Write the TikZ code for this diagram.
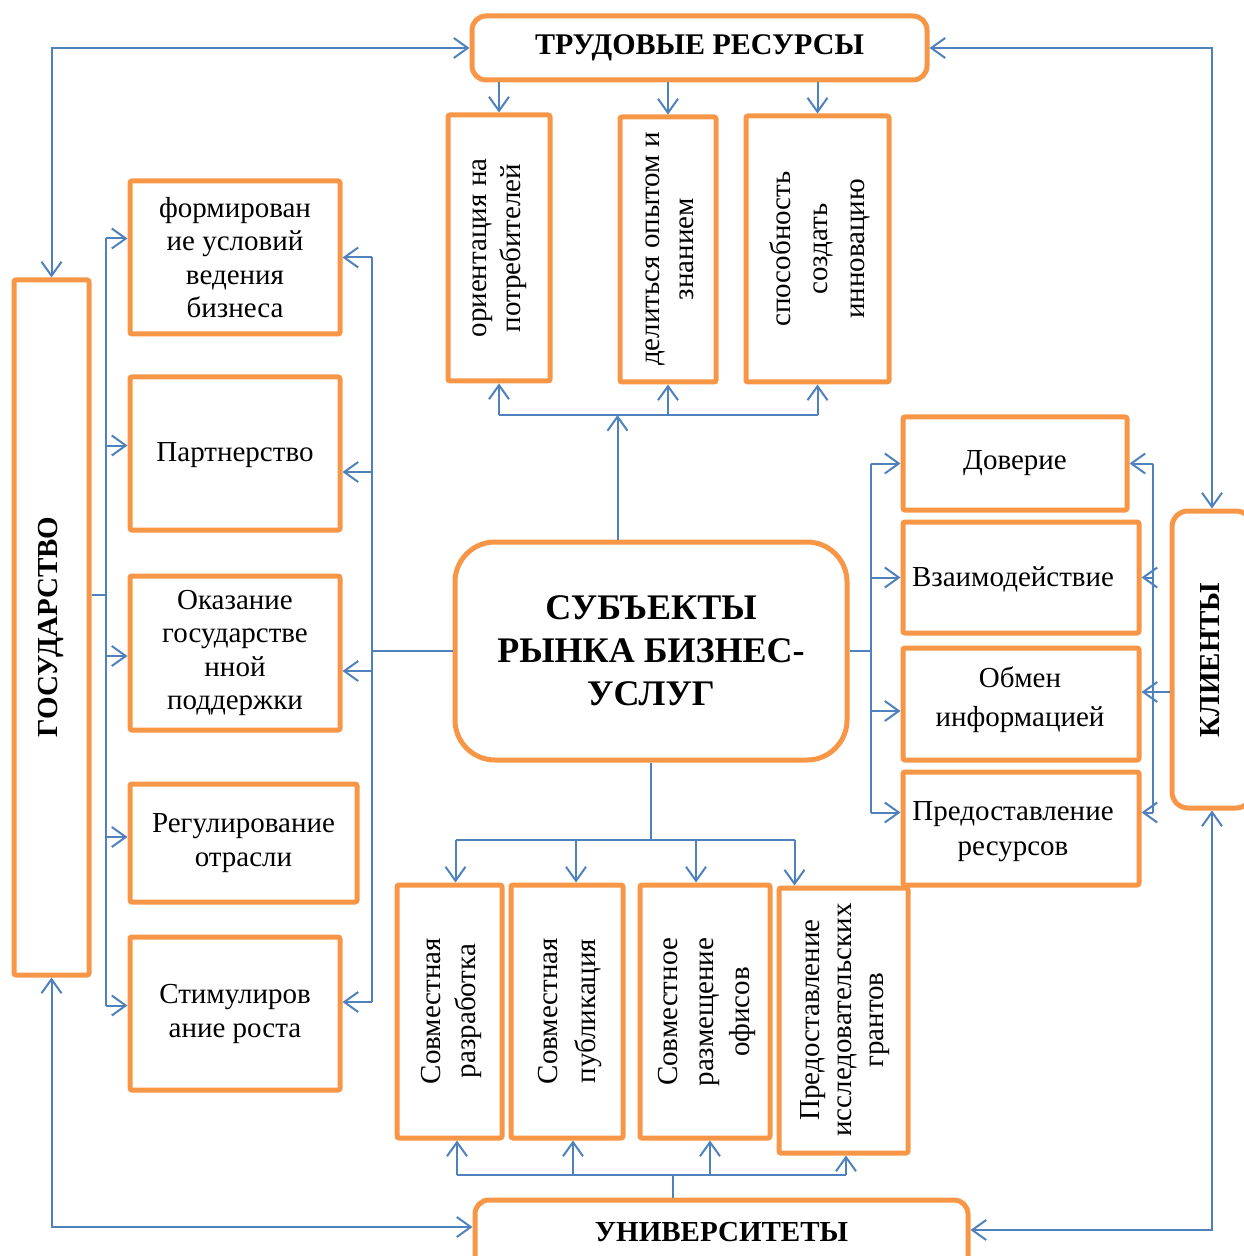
\documentclass[tikz,border=0pt]{standalone}
\usepackage{fontspec}
\setmainfont{Liberation Serif}[BoldFont={Liberation Serif Bold}]
\usetikzlibrary{arrows.meta}
\definecolor{org}{RGB}{247,150,70}
\definecolor{blu}{RGB}{79,129,189}
\begin{document}
\begin{tikzpicture}[x=0.5pt,y=-0.5pt,
  box/.style={draw=org,line width=2.5pt,rounded corners=1pt,inner sep=0pt,align=center,
              font=\fontsize{14.5}{17}\selectfont},
  rot/.style={rotate=90,align=center,inner sep=0pt,font=\fontsize{14.5}{17}\selectfont},
  boldtxt/.style={align=center,inner sep=0pt,font=\fontsize{14.5}{17}\selectfont\bfseries},
  tipb/.tip={Straight Barb[length=7pt,width=10pt]},
  ln/.style={draw=blu,line width=1pt},
  arr/.style={ln,-tipb},
  arr2/.style={ln,tipb-tipb}]
\useasboundingbox (0,0) rectangle (1243,1256);

% top
\node[box,rounded corners=7pt,minimum width=227.5pt,minimum height=32pt,
      font=\fontsize{15}{17}\selectfont\bfseries] (TR) at (699.5,48) {ТРУДОВЫЕ РЕСУРСЫ};
\node[box,minimum width=51pt,minimum height=133pt] (B1) at (499,248) {};
\node[rot] (B1t) at (500,248) {ориентация на\\потребителей};
\node[box,minimum width=48pt,minimum height=132.5pt] (B2) at (668,249.5) {};
\node[rot] (B2t) at (670,249) {делиться опытом и\\знанием};
\node[box,minimum width=71.5pt,minimum height=133pt] (B3) at (817.5,249) {};
\node[rot,font=\fontsize{14.5}{18.5}\selectfont] (B3t) at (820,249) {способность\\создать\\инновацию};

% left
\node[box,minimum width=37.5pt,minimum height=347.5pt] (GOS) at (51.5,627.5) {};
\node[boldtxt,rotate=90] (GOSt) at (51,627) {ГОСУДАРСТВО};
\node[box,minimum width=105pt,minimum height=76.5pt,font=\fontsize{14.5}{16.7}\selectfont] (L1) at (235,257.5) {формирован\\ие условий\\ведения\\бизнеса};
\node[box,minimum width=105pt,minimum height=76.5pt] (L2) at (235,453.5) {};
\node[align=center,inner sep=0pt,font=\fontsize{14.5}{17}\selectfont] (L2t) at (235,455) {Партнерство};
\node[box,minimum width=105pt,minimum height=77pt,font=\fontsize{14.5}{16.7}\selectfont] (L3) at (235,653) {Оказание\\государстве\\нной\\поддержки};
\node[box,minimum width=113.5pt,minimum height=59pt] (L4) at (243.5,843) {Регулирование\\отрасли};
\node[box,minimum width=105pt,minimum height=76.5pt] (L5) at (235,1013.5) {Стимулиров\\ание роста};

% centre
\node[box,rounded corners=20pt,minimum width=196pt,minimum height=109pt,
      font=\fontsize{18}{21.5}\selectfont\bfseries] (C) at (651,651) {СУБЪЕКТЫ\\РЫНКА БИЗНЕС-\\УСЛУГ};

% right
\node[box,minimum width=112pt,minimum height=46.5pt] (R1) at (1015,463.5) {Доверие};
\node[box,minimum width=118pt,minimum height=55.5pt] (R2) at (1021,577.5) {};
\node[align=center,inner sep=0pt,font=\fontsize{14.5}{17}\selectfont] (R2t) at (1013,579) {Взаимодействие};
\node[box,minimum width=118pt,minimum height=56pt] (R3) at (1021,704) {};
\node[align=center,inner sep=0pt,font=\fontsize{14.5}{19.5}\selectfont] (R3t) at (1020,700) {Обмен\\информацией};
\node[box,minimum width=118pt,minimum height=56.5pt] (R4) at (1021,828.5) {};
\node[align=center,inner sep=0pt,font=\fontsize{14.5}{17.5}\selectfont] (R4t) at (1013,832) {Предоставление\\ресурсов};
\node[box,rounded corners=8pt,minimum width=40pt,minimum height=148.5pt] (KL) at (1212,659.5) {};
\node[boldtxt,rotate=90] (KLt) at (1210,660) {КЛИЕНТЫ};

% bottom
\node[box,minimum width=52.5pt,minimum height=126.5pt] (D1) at (449.5,1011.5) {};
\node[rot,font=\fontsize{14.5}{17.5}\selectfont] (D1t) at (451,1011) {Совместная\\разработка};
\node[box,minimum width=56pt,minimum height=126.5pt] (D2) at (567,1011.5) {};
\node[rot,font=\fontsize{14.5}{19}\selectfont] (D2t) at (570,1011) {Совместная\\публикация};
\node[box,minimum width=65pt,minimum height=126.5pt] (D3) at (705,1011.5) {};
\node[rot,font=\fontsize{14.5}{17.8}\selectfont] (D3t) at (707,1012) {Совместное\\размещение\\офисов};
\node[box,minimum width=64.5pt,minimum height=132.5pt] (D4) at (843.5,1020.5) {};
\node[rot,font=\fontsize{14.5}{16}\selectfont] (D4t) at (845,1020) {Предоставление\\исследовательских\\грантов};
\node[box,rounded corners=7pt,minimum width=246.5pt,minimum height=35pt] (UN) at (721.5,1235) {};
\node[boldtxt] (UNt) at (721.5,1232) {УНИВЕРСИТЕТЫ};

% --- connectors: top
\draw[arr] (TR.south -| B1) -- (B1.north);
\draw[arr] (TR.south -| B2) -- (B2.north);
\draw[arr] (TR.south -| B3) -- (B3.north);
\coordinate (jt) at (617.5,415);
\draw[arr] (C.north -| jt) -- (jt);
\draw[ln] (B1.south |- jt) -- (B3.south |- jt);
\draw[arr] (B1.south |- jt) -- (B1.south);
\draw[arr] (B2.south |- jt) -- (B2.south);
\draw[arr] (B3.south |- jt) -- (B3.south);

% left bus
\coordinate (gl) at (106,595);
\draw[ln] (GOS.east |- gl) -- (gl);
\coordinate (a1) at ([yshift=9.5pt]L1.west);
\coordinate (a2) at ([yshift=4pt]L2.west);
\coordinate (a3) at ([yshift=-1.5pt]L3.west);
\coordinate (a4) at ([yshift=3pt]L4.west);
\coordinate (a5) at ([yshift=4pt]L5.west);
\draw[ln] (a1 -| gl) -- (a5 -| gl);
\foreach \i in {1,...,5} \draw[arr] (a\i -| gl) -- (a\i);

\coordinate (gr) at ([xshift=-40.5pt]C.west);
\draw[ln] (C.west) -- (gr);
\coordinate (b1) at (L1.east);
\coordinate (b2) at ([yshift=-9.25pt]L2.east);
\coordinate (b3) at ([yshift=-9pt]L3.east);
\coordinate (b5) at ([yshift=5.75pt]L5.east);
\draw[ln] (b1 -| gr) -- (b5 -| gr);
\foreach \i in {1,2,3,5} \draw[arr] (b\i -| gr) -- (b\i);

% right buses
\coordinate (hr) at ([xshift=10.5pt]C.east);
\draw[ln] (C.east) -- (hr);
\coordinate (c1) at (R1.west);
\coordinate (c2) at (R2.west);
\coordinate (c3) at ([yshift=-3.5pt]R3.west);
\coordinate (c4) at ([yshift=8pt]R4.west);
\draw[ln] (c1 -| hr) -- (c4 -| hr);
\foreach \i in {1,...,4} \draw[arr] (c\i -| hr) -- (c\i);

\coordinate (hk) at ([xshift=-8.5pt]KL.west);
\coordinate (d1) at (R1.east);
\coordinate (d2) at (R2.east);
\coordinate (d4) at ([yshift=8pt]R4.east);
\draw[ln] (d1 -| hk) -- (d4 -| hk);
\foreach \i in {1,2,4} \draw[arr] (d\i -| hk) -- (d\i);
\coordinate (r3) at ([yshift=6pt]R3.east);
\draw[arr] (KL.west |- r3) -- (r3);

% bottom
\coordinate (jb) at ([yshift=-38.5pt]C.south);
\draw[ln] (C.south) -- (jb);
\coordinate (e1) at ([xshift=3pt]D1.north);
\coordinate (e2) at ([xshift=4.5pt]D2.north);
\coordinate (e3) at ([xshift=-4.5pt]D3.north);
\coordinate (e4) at ([xshift=9pt]D4.north west);
\draw[ln] (e1 |- jb) -- (e4 |- jb);
\foreach \i in {1,...,4} \draw[arr] (e\i |- jb) -- (e\i);

\coordinate (uj) at ([xshift=-24.25pt]UN.north);
\coordinate (ub) at ([yshift=11.5pt]uj);
\draw[ln] (uj) -- (ub);
\coordinate (f1) at ([xshift=3.75pt]D1.south);
\coordinate (f2) at ([xshift=3pt]D2.south);
\coordinate (f3) at ([xshift=2.5pt]D3.south);
\coordinate (f4) at ([xshift=1.25pt]D4.south);
\draw[ln] (f1 |- ub) -- (f4 |- ub);
\foreach \i in {1,...,4} \draw[arr] (f\i |- ub) -- (f\i);

% outer
\draw[arr2] (TR.west) -| (GOS.north);
\draw[arr2] (TR.east) -| (KL.north);
\coordinate (u1) at ([yshift=4pt]UN.west);
\draw[arr2] (u1) -| (GOS.south);
\coordinate (u2) at ([yshift=2.5pt]UN.east);
\draw[arr2] (u2) -| (KL.south);
\end{tikzpicture}
\end{document}
